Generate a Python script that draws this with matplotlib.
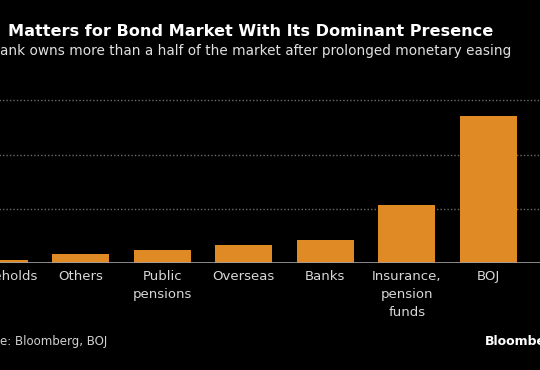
import matplotlib.pyplot as plt

categories = ["Households", "Others", "Public\npensions", "Overseas", "Banks",
              "Insurance,\npension\nfunds", "BOJ"]
shares = [1.1, 3.3, 4.9, 6.6, 8.6, 21.6, 54.4]
grid_values = [20, 40, 60]

title = "Matters for Bond Market With Its Dominant Presence"
subtitle = "ank owns more than a half of the market after prolonged monetary easing"
source = "e: Bloomberg, BOJ"

W, H = 540, 370
BG = "#000000"
BAR = "#E08A26"


def main() -> None:
    fig = plt.figure(figsize=(W / 100, H / 100), dpi=100, facecolor=BG)

    # axes runs past both edges of the picture, as in the cropped original
    x0, x1 = -0.8, 7.0
    px_per_cat = 81.55
    left_px = -1 - (0 - x0) * px_per_cat
    right_px = -1 + (x1 - 0) * px_per_cat
    base_px = 263.3
    y_top = 62
    top_px = base_px - y_top * 2.715
    ax = fig.add_axes([left_px / W, (H - base_px) / H,
                       (right_px - left_px) / W, (base_px - top_px) / H])
    ax.set_facecolor(BG)

    ax.bar(range(len(categories)), shares, width=0.7, color=BAR, zorder=3)
    ax.set_xlim(x0, x1)
    ax.set_ylim(0, y_top)

    for v in grid_values:
        ax.axhline(v, color="#6a6a6a", linewidth=1, linestyle=(0, (1, 1.5)), zorder=1)
    ax.axhline(0, color="#a0a0a0", linewidth=1.2, zorder=4)

    for s in ax.spines.values():
        s.set_visible(False)
    ax.set_yticks([])
    ax.set_xticks(range(len(categories)))
    ax.set_xticklabels(categories, color="#d8d8d8", fontsize=9.5, linespacing=1.5)
    ax.tick_params(axis="x", length=0, pad=5)

    fig.text(8 / W, 1 - 36 / H, title, color="white", fontsize=11.6,
             fontweight="bold", ha="left", va="baseline")
    fig.text(0, 1 - 55 / H, subtitle, color="#e0e0e0", fontsize=9.8,
             ha="left", va="baseline")
    fig.text(0, 1 - 345 / H, source, color="#d0d0d0", fontsize=8.5,
             ha="left", va="baseline")
    fig.text(485 / W, 1 - 345 / H, "Bloomberg", color="white", fontsize=9,
             fontweight="bold", ha="left", va="baseline")

    fig.savefig("out.png", dpi=100, facecolor=BG)


if __name__ == "__main__":
    main()
